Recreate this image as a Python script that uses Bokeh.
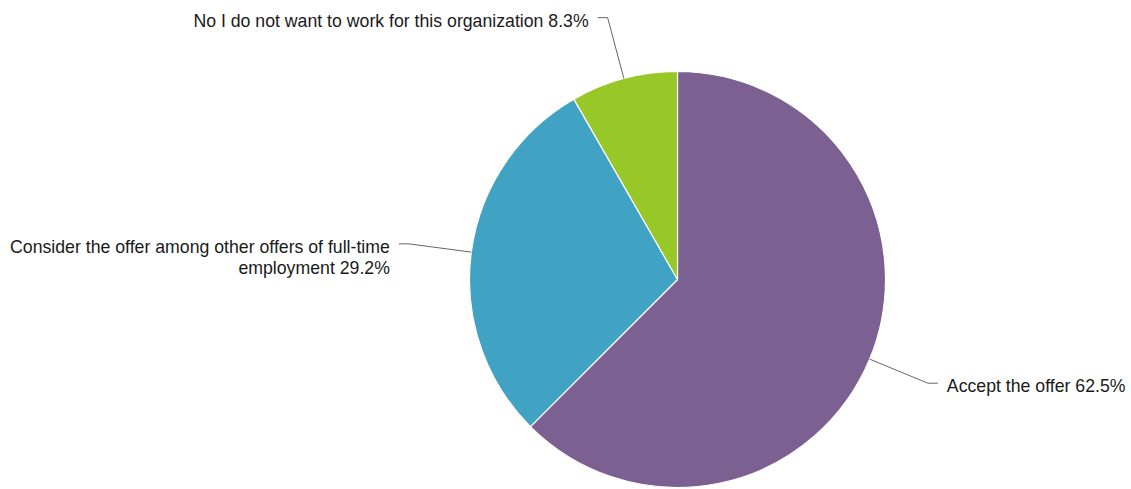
import numpy as np
from bokeh.plotting import figure
from bokeh.models import Range1d, ColumnDataSource
from bokeh.core.properties import value
from bokeh.embed import file_html
from bokeh.resources import INLINE

# ---- data ----
categories = [
    "Accept the offer",
    "Consider the offer among other offers of full-time\nemployment",
    "No I do not want to work for this organization",
]
shares = [62.5, 29.2, 8.3]
colors = ["#7b6091", "#40a3c3", "#97c828"]

# ---- layout (page pixels, y up) ----
W, H = 1131, 489
CX, CY = 677.0, 489.0 - 279.0
R = 208.0
R_ELBOW = 271.0
HSEG = 10.0
GAP = 9.0
FONT = "17.7px"
LINE_STEP = 21.0
BASE_DROP = 3.0

vals = np.array(shares, dtype=float)
frac = vals / vals.sum()
cum = np.concatenate([[0.0], np.cumsum(frac)])
start_deg = 90.0 - cum[:-1] * 360.0
end_deg = 90.0 - cum[1:] * 360.0
mid = np.deg2rad((start_deg + end_deg) / 2.0)

wedges = ColumnDataSource(dict(
    x=[CX] * len(vals), y=[CY] * len(vals),
    start=np.deg2rad(start_deg), end=np.deg2rad(end_deg),
    color=colors,
))

p = figure(width=W, height=H, output_backend="svg", toolbar_location=None,
           x_range=Range1d(0, W), y_range=Range1d(489 - H, 489),
           min_border=0, outline_line_color=None)
p.axis.visible = False
p.grid.visible = False
p.background_fill_color = "white"
p.border_fill_color = "white"

p.wedge(x="x", y="y", radius=R, start_angle="start", end_angle="end",
        direction="clock", fill_color="color", line_color="white",
        line_width=1.2, source=wedges)

xs, ys = [], []
tx, ty, tt, ta = [], [], [], []
for i, a in enumerate(mid):
    side = 1.0 if np.cos(a) >= 0 else -1.0
    x0, y0 = CX + R * np.cos(a), CY + R * np.sin(a)
    x1, y1 = CX + R_ELBOW * np.cos(a), CY + R_ELBOW * np.sin(a)
    x2 = x1 + side * HSEG
    xs.append([x0, x1, x2])
    ys.append([y0, y1, y1])
    full = f"{categories[i]} {shares[i]:.1f}%"
    for j, line in enumerate(full.split("\n")):
        tx.append(x2 + side * GAP)
        ty.append(y1 - BASE_DROP - j * LINE_STEP)
        tt.append(line)
        ta.append("left" if side > 0 else "right")

p.multi_line(xs=xs, ys=ys, line_color="#666666", line_width=1)
p.text(x="x", y="y", text="t", text_align="a",
       source=ColumnDataSource(dict(x=tx, y=ty, t=tt, a=ta)),
       text_font=value("Liberation Sans"), text_font_size=FONT,
       text_color="#1a1a1a", text_baseline="alphabetic")

open("out.html", "w").write(file_html(p, INLINE))
